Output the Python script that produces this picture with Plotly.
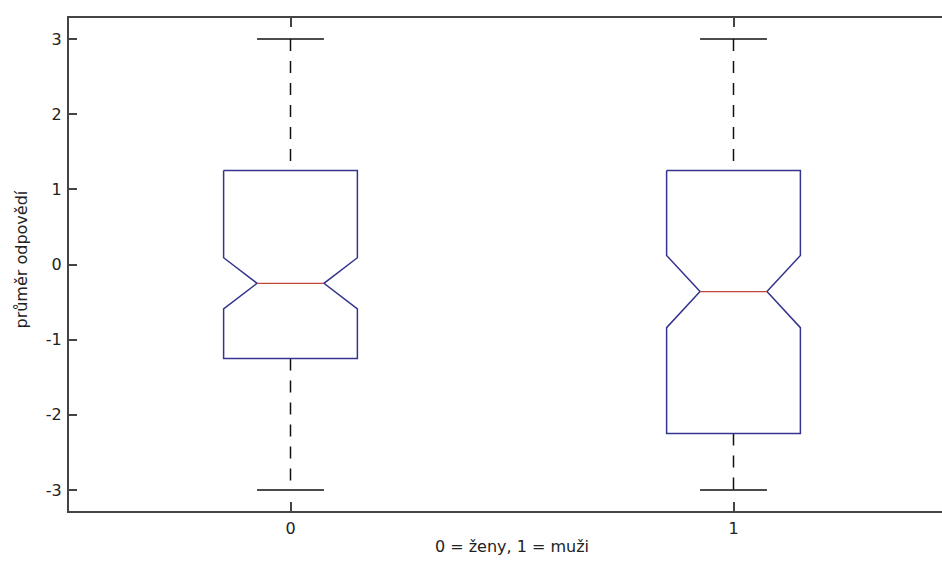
import plotly.graph_objects as go

# Group summary statistics (notched box plot)
groups = ["0", "1"]
positions = [0, 1]
q1 = [-1.25, -2.25]
median = [-0.25, -0.36]
q3 = [1.25, 1.25]
whisker_low = [-3.0, -3.0]
whisker_high = [3.0, 3.0]
notch_low = [-0.59, -0.84]
notch_high = [0.09, 0.12]

y_ticks = [-3, -2, -1, 0, 1, 2, 3]
y_tick_text = ["-3", "-2", "-1", "0", "1", "2", "3"]

BOX_HALF = 0.151
INNER_HALF = BOX_HALF / 2
BOX_COLOR = "#34348e"
MEDIAN_COLOR = "#c0463c"
WHISKER_COLOR = "#111111"
AXIS_COLOR = "#444444"
FONT = "DejaVu Sans"
X_RANGE = [-0.5, 1.5]

fig = go.Figure()

for i, x in enumerate(positions):
    # dashed whiskers, drawn from the higher value downward
    for y0, y1 in ((whisker_high[i], q3[i]), (q1[i], whisker_low[i])):
        fig.add_trace(go.Scatter(
            x=[x, x], y=[y0, y1], mode="lines",
            line=dict(color=WHISKER_COLOR, width=1.5, dash="12px,10px"),
            hoverinfo="skip", showlegend=False))
    # whisker caps
    for yc in (whisker_high[i], whisker_low[i]):
        fig.add_trace(go.Scatter(
            x=[x - INNER_HALF, x + INNER_HALF], y=[yc, yc], mode="lines",
            line=dict(color=WHISKER_COLOR, width=1.5),
            hoverinfo="skip", showlegend=False))
    # notched box outline
    bx = [x - BOX_HALF, x + BOX_HALF, x + BOX_HALF, x + INNER_HALF, x + BOX_HALF,
          x + BOX_HALF, x - BOX_HALF, x - BOX_HALF, x - INNER_HALF, x - BOX_HALF,
          x - BOX_HALF]
    by = [q3[i], q3[i], notch_high[i], median[i], notch_low[i],
          q1[i], q1[i], notch_low[i], median[i], notch_high[i], q3[i]]
    fig.add_trace(go.Scatter(
        x=bx, y=by, mode="lines",
        line=dict(color=BOX_COLOR, width=1.5),
        hoverinfo="skip", showlegend=False))
    # median line
    fig.add_trace(go.Scatter(
        x=[x - INNER_HALF, x + INNER_HALF], y=[median[i], median[i]], mode="lines",
        line=dict(color=MEDIAN_COLOR, width=1.3),
        hoverinfo="skip", showlegend=False))

axis_common = dict(showgrid=False, zeroline=False, showline=True,
                   linecolor=AXIS_COLOR, linewidth=2, ticks="inside",
                   tickwidth=1.5, tickcolor=AXIS_COLOR, mirror="ticks")

# rotated y-axis caption placed left of the tick labels
fig.add_annotation(text="průměr odpovědí", textangle=-90,
                   xref="paper", yref="paper", x=0, y=0.5,
                   xanchor="center", yanchor="middle", xshift=-48, yshift=5,
                   showarrow=False, font=dict(family=FONT, size=16, color="#222222"))

fig.update_layout(
    width=957, height=563,
    margin=dict(l=69, r=0, t=18, b=52),
    paper_bgcolor="white", plot_bgcolor="white",
    font=dict(family=FONT, size=16, color="#222222"),
    xaxis=dict(
        range=X_RANGE, tickvals=positions, ticktext=groups,
        ticklen=9, ticklabelstandoff=2, **axis_common,
        title=dict(text="0 = ženy, 1 = muži", standoff=4,
                   font=dict(family=FONT, size=16)),
    ),
    yaxis=dict(
        range=[-3.28, 3.28], tickvals=y_ticks, ticktext=y_tick_text,
        ticklen=8, ticklabelstandoff=2, **axis_common,
    ),
)

fig.write_html("out.html")
